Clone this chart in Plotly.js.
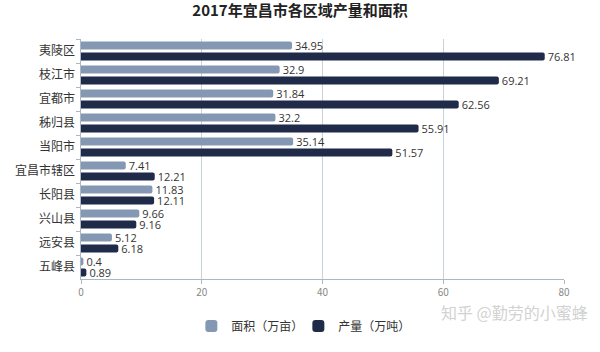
<!DOCTYPE html>
<html><head><meta charset="utf-8">
<script src="https://cdn.plot.ly/plotly-3.0.1.min.js"></script>
<style>html,body{margin:0;padding:0;background:#fff}#chart{width:600px;height:352px}</style>
</head><body><div id="chart"></div>
<script>
const categories = ["夷陵区","枝江市","宜都市","秭归县","当阳市","宜昌市辖区","长阳县","兴山县","远安县","五峰县"];
const area = [34.95, 32.9, 31.84, 32.2, 35.14, 7.41, 11.83, 9.66, 5.12, 0.4];
const production = [76.81, 69.21, 62.56, 55.91, 51.57, 12.21, 12.11, 9.16, 6.18, 0.89];
const seriesNames = ["面积（万亩）", "产量（万吨）"];
const xTicks = [0, 20, 40, 60, 80];

const font = '"Noto Sans CJK SC", "Noto Sans", sans-serif';
const common = {type:'bar', orientation:'h', textposition:'outside', cliponaxis:false, constraintext:'none',
  textfont:{family:'"Open Sans", "Noto Sans", sans-serif', size:11, color:'#333'}, hoverinfo:'skip'};
const traces = [
  Object.assign({}, common, {name:seriesNames[0], y:categories, x:area, text:area.map(String),
    marker:{color:'#8598b3', cornerradius:2}}),
  Object.assign({}, common, {name:seriesNames[1], y:categories, x:production, text:production.map(String),
    marker:{color:'#1f2b48', cornerradius:2}})
];
const layout = {
  width:600, height:352,
  margin:{l:81, r:36, t:39, b:56},
  paper_bgcolor:'#fff', plot_bgcolor:'#fff',
  font:{family:font, color:'#333'},
  title:{text:'<b>2017年宜昌市各区域产量和面积</b>', x:0.5, xanchor:'center', y:0.985, yanchor:'top',
    font:{family:font, size:15, color:'#222'}},
  barmode:'group', bargap:0.08, bargroupgap:0.26,
  xaxis:{range:[0,80], tickvals:xTicks, showgrid:true, gridcolor:'#c9d3da', gridwidth:1,
    zeroline:false, showline:true, linecolor:'#a9b8c2', ticks:'outside', ticklen:4, tickcolor:'#a9b8c2',
    tickfont:{size:10, color:'#888'}},
  yaxis:{autorange:'reversed', showline:true, linecolor:'#a9b8c2', ticks:'outside', ticklen:4,
    tickcolor:'#a9b8c2', tickson:'boundaries', tickfont:{size:12, color:'#333'}, ticksuffix:' '},
  showlegend:true,
  legend:{orientation:'h', x:0.45, xanchor:'center', y:-0.135, yanchor:'top',
    font:{size:12, color:'#333'}, itemwidth:30, entrywidth:62, entrywidthmode:'pixels', traceorder:'normal'},
  annotations:[{text:'知乎 @勤劳的小蜜蜂', xref:'paper', yref:'paper', x:1.054, y:-0.08,
    xanchor:'right', yanchor:'top', showarrow:false, font:{family:font, size:16, color:'#d2d2d2'}}]
};
Plotly.newPlot('chart', traces, layout, {displayModeBar:false, staticPlot:true});
</script></body></html>
